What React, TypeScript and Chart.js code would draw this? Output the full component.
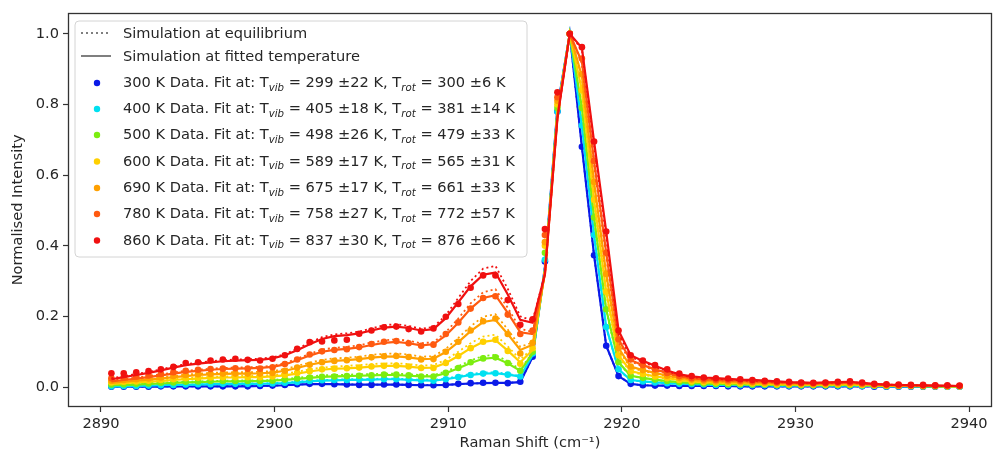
import React, { useEffect, useRef } from "react";
import { Chart, registerables } from "chart.js";

Chart.register(...registerables);

// ---------- data ----------
const ramanShift = [
  2890.60, 2891.31, 2892.03, 2892.74, 2893.45, 2894.17, 2894.88, 2895.59, 2896.31, 2897.02,
  2897.74, 2898.45, 2899.16, 2899.88, 2900.59, 2901.30, 2902.02, 2902.73, 2903.44, 2904.16,
  2904.87, 2905.58, 2906.30, 2907.01, 2907.72, 2908.44, 2909.15, 2909.86, 2910.58, 2911.29,
  2912.01, 2912.72, 2913.43, 2914.15, 2914.86, 2915.57, 2916.29, 2917.00, 2917.70, 2918.40,
  2919.10, 2919.81, 2920.51, 2921.21, 2921.91, 2922.61, 2923.31, 2924.02, 2924.72, 2925.42,
  2926.12, 2926.82, 2927.52, 2928.23, 2928.93, 2929.63, 2930.33, 2931.03, 2931.73, 2932.44,
  2933.14, 2933.84, 2934.54, 2935.24, 2935.94, 2936.65, 2937.35, 2938.05, 2938.75, 2939.45,
];

const xTicks = [2890, 2900, 2910, 2920, 2930, 2940];
const yTicks = [0.0, 0.2, 0.4, 0.6, 0.8, 1.0];

const tempLabels = ["300 K", "400 K", "500 K", "600 K", "690 K", "780 K", "860 K"];
const tVibFit = ["299 ±22", "405 ±18", "498 ±26", "589 ±17", "675 ±17", "758 ±27", "837 ±30"];
const tRotFit = ["300 ±6", "381 ±14", "479 ±33", "565 ±31", "661 ±33", "772 ±57", "876 ±66"];
const seriesColors = ["#0a1ae8", "#00e0f0", "#7ced10", "#ffd000", "#ffa000", "#ff5a10", "#f01010"];
const simLegendLabels = ["Simulation at equilibrium", "Simulation at fitted temperature"];

// 300 K
const data300 = [
  0.001, 0.001, 0.001, 0.001, 0.002, 0.002, 0.002, 0.002, 0.002, 0.002,
  0.002, 0.002, 0.003, 0.004, 0.006, 0.008, 0.009, 0.009, 0.008, 0.007,
  0.006, 0.006, 0.007, 0.007, 0.006, 0.005, 0.005, 0.006, 0.009, 0.011,
  0.012, 0.012, 0.011, 0.015, 0.086, 0.355, 0.780, 1.000, 0.680, 0.373,
  0.117, 0.031, 0.009, 0.005, 0.004, 0.004, 0.003, 0.003, 0.003, 0.003,
  0.002, 0.002, 0.002, 0.002, 0.002, 0.002, 0.002, 0.002, 0.002, 0.002,
  0.002, 0.002, 0.001, 0.001, 0.001, 0.001, 0.001, 0.001, 0.001, 0.001,
];
const fit300 = [
  0.001, 0.001, 0.001, 0.001, 0.001, 0.002, 0.002, 0.002, 0.002, 0.002,
  0.002, 0.002, 0.003, 0.004, 0.005, 0.007, 0.008, 0.008, 0.008, 0.007,
  0.007, 0.007, 0.007, 0.007, 0.006, 0.005, 0.005, 0.006, 0.008, 0.010,
  0.011, 0.012, 0.012, 0.014, 0.085, 0.340, 0.790, 1.000, 0.680, 0.373,
  0.117, 0.031, 0.009, 0.005, 0.004, 0.004, 0.003, 0.003, 0.003, 0.003,
  0.003, 0.002, 0.002, 0.002, 0.002, 0.002, 0.002, 0.002, 0.002, 0.002,
  0.002, 0.002, 0.002, 0.001, 0.001, 0.001, 0.001, 0.001, 0.001, 0.001,
];
const eq300 = [
  0.001, 0.001, 0.001, 0.002, 0.002, 0.002, 0.002, 0.002, 0.002, 0.002,
  0.003, 0.003, 0.003, 0.004, 0.005, 0.007, 0.008, 0.009, 0.008, 0.008,
  0.007, 0.007, 0.007, 0.007, 0.006, 0.006, 0.005, 0.006, 0.008, 0.010,
  0.011, 0.012, 0.012, 0.014, 0.085, 0.340, 0.790, 1.000, 0.679, 0.372,
  0.116, 0.031, 0.009, 0.005, 0.004, 0.004, 0.003, 0.003, 0.003, 0.003,
  0.003, 0.002, 0.002, 0.002, 0.002, 0.002, 0.002, 0.002, 0.002, 0.002,
  0.002, 0.002, 0.002, 0.001, 0.001, 0.001, 0.001, 0.001, 0.001, 0.001,
];

// 400 K
const data400 = [
  0.002, 0.003, 0.003, 0.004, 0.005, 0.006, 0.007, 0.008, 0.008, 0.009,
  0.009, 0.009, 0.009, 0.010, 0.012, 0.014, 0.017, 0.019, 0.020, 0.020,
  0.021, 0.022, 0.022, 0.022, 0.021, 0.019, 0.018, 0.022, 0.028, 0.034,
  0.038, 0.039, 0.035, 0.030, 0.095, 0.360, 0.780, 1.000, 0.740, 0.430,
  0.170, 0.050, 0.020, 0.016, 0.013, 0.011, 0.009, 0.008, 0.007, 0.006,
  0.006, 0.005, 0.005, 0.005, 0.004, 0.004, 0.004, 0.004, 0.004, 0.004,
  0.004, 0.003, 0.003, 0.002, 0.002, 0.002, 0.002, 0.002, 0.001, 0.001,
];
const fit400 = [
  0.002, 0.002, 0.003, 0.004, 0.005, 0.006, 0.006, 0.007, 0.008, 0.008,
  0.009, 0.009, 0.009, 0.010, 0.011, 0.013, 0.016, 0.018, 0.019, 0.020,
  0.020, 0.021, 0.022, 0.022, 0.020, 0.019, 0.018, 0.022, 0.028, 0.034,
  0.038, 0.039, 0.035, 0.030, 0.090, 0.335, 0.785, 1.000, 0.740, 0.430,
  0.170, 0.050, 0.020, 0.016, 0.013, 0.011, 0.009, 0.008, 0.007, 0.006,
  0.006, 0.005, 0.005, 0.005, 0.004, 0.004, 0.004, 0.004, 0.004, 0.004,
  0.004, 0.003, 0.003, 0.002, 0.002, 0.002, 0.002, 0.002, 0.001, 0.001,
];
const eq400 = [
  0.003, 0.003, 0.004, 0.005, 0.006, 0.007, 0.007, 0.008, 0.009, 0.009,
  0.010, 0.010, 0.010, 0.011, 0.013, 0.015, 0.018, 0.020, 0.021, 0.022,
  0.022, 0.023, 0.024, 0.024, 0.022, 0.021, 0.020, 0.024, 0.031, 0.037,
  0.041, 0.042, 0.037, 0.031, 0.092, 0.335, 0.785, 1.000, 0.738, 0.427,
  0.168, 0.049, 0.019, 0.015, 0.012, 0.010, 0.009, 0.008, 0.007, 0.006,
  0.006, 0.005, 0.005, 0.004, 0.004, 0.004, 0.004, 0.004, 0.004, 0.004,
  0.004, 0.003, 0.003, 0.002, 0.002, 0.002, 0.002, 0.001, 0.001, 0.001,
];

// 500 K
const data500 = [
  0.007, 0.008, 0.009, 0.010, 0.012, 0.013, 0.015, 0.016, 0.017, 0.017,
  0.017, 0.017, 0.017, 0.018, 0.021, 0.024, 0.027, 0.029, 0.030, 0.031,
  0.032, 0.033, 0.035, 0.035, 0.033, 0.030, 0.030, 0.040, 0.054, 0.070,
  0.081, 0.084, 0.068, 0.046, 0.100, 0.380, 0.790, 1.000, 0.790, 0.480,
  0.220, 0.070, 0.032, 0.026, 0.021, 0.017, 0.014, 0.012, 0.010, 0.009,
  0.008, 0.008, 0.007, 0.007, 0.006, 0.006, 0.005, 0.005, 0.005, 0.006,
  0.006, 0.005, 0.004, 0.003, 0.003, 0.003, 0.002, 0.002, 0.002, 0.002,
];
const fit500 = [
  0.005, 0.006, 0.007, 0.009, 0.010, 0.012, 0.013, 0.014, 0.015, 0.016,
  0.016, 0.017, 0.017, 0.018, 0.020, 0.023, 0.026, 0.029, 0.030, 0.031,
  0.032, 0.033, 0.034, 0.034, 0.032, 0.030, 0.030, 0.039, 0.053, 0.068,
  0.080, 0.083, 0.067, 0.046, 0.095, 0.330, 0.780, 1.000, 0.790, 0.480,
  0.220, 0.070, 0.032, 0.026, 0.021, 0.017, 0.014, 0.012, 0.010, 0.009,
  0.008, 0.008, 0.007, 0.007, 0.006, 0.006, 0.005, 0.005, 0.005, 0.006,
  0.006, 0.005, 0.004, 0.003, 0.003, 0.003, 0.002, 0.002, 0.002, 0.002,
];
const eq500 = [
  0.007, 0.008, 0.009, 0.011, 0.012, 0.014, 0.015, 0.016, 0.017, 0.018,
  0.018, 0.019, 0.019, 0.020, 0.023, 0.026, 0.030, 0.033, 0.034, 0.035,
  0.036, 0.037, 0.038, 0.038, 0.036, 0.034, 0.034, 0.044, 0.059, 0.075,
  0.088, 0.091, 0.073, 0.050, 0.098, 0.330, 0.780, 1.000, 0.787, 0.475,
  0.215, 0.068, 0.031, 0.025, 0.020, 0.016, 0.013, 0.011, 0.009, 0.008,
  0.008, 0.007, 0.007, 0.006, 0.006, 0.005, 0.005, 0.005, 0.005, 0.005,
  0.005, 0.004, 0.004, 0.003, 0.003, 0.002, 0.002, 0.002, 0.002, 0.002,
];

// 600 K
const data600 = [
  0.013, 0.015, 0.016, 0.018, 0.020, 0.022, 0.025, 0.026, 0.027, 0.028,
  0.028, 0.028, 0.028, 0.030, 0.034, 0.040, 0.045, 0.050, 0.052, 0.053,
  0.055, 0.058, 0.060, 0.061, 0.058, 0.054, 0.054, 0.068, 0.088, 0.110,
  0.128, 0.134, 0.102, 0.066, 0.110, 0.400, 0.800, 1.000, 0.840, 0.530,
  0.270, 0.090, 0.045, 0.037, 0.030, 0.025, 0.020, 0.016, 0.014, 0.013,
  0.012, 0.011, 0.010, 0.009, 0.008, 0.008, 0.007, 0.007, 0.007, 0.008,
  0.008, 0.006, 0.005, 0.004, 0.004, 0.003, 0.003, 0.003, 0.002, 0.002,
];
const fit600 = [
  0.009, 0.011, 0.013, 0.015, 0.017, 0.020, 0.022, 0.024, 0.026, 0.027,
  0.027, 0.028, 0.028, 0.030, 0.033, 0.038, 0.044, 0.049, 0.052, 0.053,
  0.055, 0.058, 0.060, 0.060, 0.058, 0.054, 0.055, 0.068, 0.088, 0.110,
  0.128, 0.133, 0.103, 0.070, 0.105, 0.330, 0.775, 1.000, 0.840, 0.530,
  0.270, 0.090, 0.045, 0.037, 0.030, 0.025, 0.020, 0.016, 0.014, 0.013,
  0.012, 0.011, 0.010, 0.009, 0.008, 0.008, 0.007, 0.007, 0.007, 0.008,
  0.008, 0.006, 0.005, 0.004, 0.004, 0.003, 0.003, 0.003, 0.002, 0.002,
];
const eq600 = [
  0.012, 0.014, 0.016, 0.018, 0.020, 0.023, 0.025, 0.027, 0.029, 0.030,
  0.031, 0.032, 0.032, 0.034, 0.038, 0.043, 0.050, 0.055, 0.058, 0.060,
  0.062, 0.065, 0.067, 0.067, 0.065, 0.061, 0.062, 0.077, 0.100, 0.124,
  0.143, 0.148, 0.115, 0.078, 0.110, 0.330, 0.775, 1.000, 0.835, 0.522,
  0.262, 0.085, 0.043, 0.035, 0.028, 0.023, 0.019, 0.015, 0.013, 0.012,
  0.011, 0.010, 0.009, 0.008, 0.008, 0.007, 0.007, 0.006, 0.006, 0.007,
  0.007, 0.006, 0.005, 0.004, 0.003, 0.003, 0.003, 0.002, 0.002, 0.002,
];

// 690 K
const data690 = [
  0.018, 0.020, 0.022, 0.024, 0.027, 0.031, 0.034, 0.036, 0.037, 0.038,
  0.038, 0.038, 0.038, 0.040, 0.046, 0.055, 0.063, 0.070, 0.074, 0.076,
  0.079, 0.084, 0.087, 0.088, 0.085, 0.078, 0.079, 0.100, 0.128, 0.160,
  0.186, 0.194, 0.150, 0.095, 0.125, 0.410, 0.810, 1.000, 0.885, 0.580,
  0.320, 0.110, 0.058, 0.048, 0.040, 0.032, 0.026, 0.021, 0.018, 0.016,
  0.015, 0.014, 0.013, 0.012, 0.011, 0.010, 0.009, 0.008, 0.009, 0.010,
  0.010, 0.008, 0.006, 0.005, 0.004, 0.004, 0.004, 0.003, 0.003, 0.003,
];
const fit690 = [
  0.012, 0.015, 0.018, 0.021, 0.024, 0.028, 0.031, 0.034, 0.036, 0.037,
  0.038, 0.038, 0.039, 0.041, 0.046, 0.054, 0.063, 0.070, 0.074, 0.076,
  0.079, 0.083, 0.086, 0.087, 0.084, 0.079, 0.080, 0.099, 0.127, 0.158,
  0.184, 0.190, 0.150, 0.105, 0.120, 0.325, 0.770, 1.000, 0.880, 0.580,
  0.320, 0.110, 0.058, 0.048, 0.040, 0.032, 0.026, 0.021, 0.018, 0.016,
  0.015, 0.014, 0.013, 0.012, 0.011, 0.010, 0.009, 0.008, 0.009, 0.010,
  0.010, 0.008, 0.006, 0.005, 0.004, 0.004, 0.004, 0.003, 0.003, 0.003,
];
const eq690 = [
  0.015, 0.018, 0.021, 0.024, 0.027, 0.031, 0.035, 0.038, 0.040, 0.041,
  0.042, 0.042, 0.043, 0.045, 0.051, 0.060, 0.069, 0.077, 0.081, 0.083,
  0.086, 0.091, 0.094, 0.095, 0.092, 0.086, 0.087, 0.108, 0.139, 0.172,
  0.199, 0.206, 0.163, 0.114, 0.126, 0.325, 0.770, 1.000, 0.875, 0.570,
  0.310, 0.104, 0.055, 0.045, 0.038, 0.030, 0.025, 0.020, 0.017, 0.015,
  0.014, 0.013, 0.012, 0.011, 0.010, 0.009, 0.008, 0.008, 0.008, 0.009,
  0.009, 0.007, 0.006, 0.005, 0.004, 0.004, 0.003, 0.003, 0.003, 0.002,
];

// 780 K
const data780 = [
  0.025, 0.028, 0.030, 0.033, 0.037, 0.042, 0.046, 0.049, 0.051, 0.052,
  0.053, 0.052, 0.052, 0.056, 0.065, 0.078, 0.092, 0.101, 0.105, 0.107,
  0.113, 0.122, 0.128, 0.130, 0.124, 0.117, 0.120, 0.150, 0.183, 0.222,
  0.252, 0.257, 0.205, 0.150, 0.160, 0.430, 0.820, 1.000, 0.930, 0.640,
  0.380, 0.135, 0.078, 0.062, 0.050, 0.040, 0.031, 0.025, 0.022, 0.020,
  0.019, 0.018, 0.016, 0.015, 0.013, 0.012, 0.011, 0.010, 0.011, 0.012,
  0.012, 0.010, 0.007, 0.006, 0.005, 0.005, 0.004, 0.004, 0.003, 0.003,
];
const fit780 = [
  0.016, 0.020, 0.024, 0.028, 0.033, 0.038, 0.043, 0.046, 0.049, 0.051,
  0.052, 0.053, 0.054, 0.057, 0.064, 0.076, 0.089, 0.100, 0.105, 0.108,
  0.112, 0.119, 0.125, 0.128, 0.124, 0.118, 0.121, 0.146, 0.182, 0.222,
  0.252, 0.260, 0.210, 0.155, 0.150, 0.320, 0.765, 1.000, 0.920, 0.640,
  0.380, 0.135, 0.076, 0.062, 0.050, 0.040, 0.031, 0.025, 0.022, 0.020,
  0.019, 0.018, 0.016, 0.015, 0.013, 0.012, 0.011, 0.010, 0.011, 0.012,
  0.012, 0.010, 0.007, 0.006, 0.005, 0.005, 0.004, 0.004, 0.003, 0.003,
];
const eq780 = [
  0.019, 0.023, 0.027, 0.031, 0.036, 0.041, 0.046, 0.049, 0.052, 0.054,
  0.055, 0.056, 0.057, 0.060, 0.068, 0.080, 0.094, 0.106, 0.111, 0.114,
  0.118, 0.126, 0.132, 0.135, 0.131, 0.124, 0.127, 0.155, 0.194, 0.237,
  0.268, 0.277, 0.224, 0.165, 0.156, 0.320, 0.765, 1.000, 0.915, 0.630,
  0.368, 0.127, 0.072, 0.059, 0.047, 0.038, 0.029, 0.024, 0.021, 0.019,
  0.018, 0.017, 0.015, 0.014, 0.012, 0.011, 0.010, 0.009, 0.010, 0.011,
  0.011, 0.009, 0.007, 0.006, 0.005, 0.004, 0.004, 0.003, 0.003, 0.003,
];

// 860 K
const data860 = [
  0.039, 0.039, 0.042, 0.045, 0.050, 0.057, 0.068, 0.070, 0.075, 0.078,
  0.080, 0.077, 0.075, 0.080, 0.090, 0.108, 0.127, 0.129, 0.132, 0.134,
  0.151, 0.160, 0.169, 0.171, 0.164, 0.157, 0.166, 0.199, 0.235, 0.281,
  0.316, 0.316, 0.246, 0.176, 0.192, 0.447, 0.834, 1.000, 0.962, 0.695,
  0.440, 0.160, 0.090, 0.075, 0.062, 0.050, 0.038, 0.031, 0.027, 0.025,
  0.024, 0.022, 0.020, 0.018, 0.016, 0.015, 0.013, 0.012, 0.013, 0.015,
  0.016, 0.013, 0.009, 0.008, 0.007, 0.006, 0.006, 0.005, 0.005, 0.004,
];
const fit860 = [
  0.022, 0.028, 0.034, 0.040, 0.047, 0.055, 0.062, 0.066, 0.070, 0.073,
  0.075, 0.076, 0.077, 0.081, 0.090, 0.104, 0.121, 0.136, 0.144, 0.147,
  0.152, 0.160, 0.168, 0.171, 0.167, 0.160, 0.164, 0.195, 0.240, 0.285,
  0.318, 0.324, 0.262, 0.190, 0.182, 0.320, 0.760, 1.000, 0.960, 0.695,
  0.440, 0.160, 0.090, 0.074, 0.060, 0.047, 0.036, 0.030, 0.027, 0.025,
  0.023, 0.021, 0.020, 0.018, 0.016, 0.014, 0.013, 0.012, 0.013, 0.014,
  0.015, 0.012, 0.009, 0.007, 0.006, 0.005, 0.005, 0.004, 0.004, 0.003,
];
const eq860 = [
  0.025, 0.031, 0.037, 0.043, 0.050, 0.058, 0.065, 0.069, 0.073, 0.076,
  0.078, 0.079, 0.080, 0.084, 0.093, 0.108, 0.126, 0.141, 0.149, 0.152,
  0.157, 0.166, 0.175, 0.178, 0.173, 0.165, 0.170, 0.203, 0.252, 0.300,
  0.335, 0.343, 0.278, 0.200, 0.188, 0.320, 0.760, 1.000, 0.955, 0.685,
  0.425, 0.150, 0.085, 0.070, 0.057, 0.045, 0.034, 0.028, 0.025, 0.023,
  0.021, 0.019, 0.018, 0.016, 0.015, 0.013, 0.012, 0.011, 0.012, 0.013,
  0.014, 0.011, 0.008, 0.007, 0.006, 0.005, 0.004, 0.004, 0.003, 0.003,
];

const measured = [data300, data400, data500, data600, data690, data780, data860];
const fitted = [fit300, fit400, fit500, fit600, fit690, fit780, fit860];
const equilibrium = [eq300, eq400, eq500, eq600, eq690, eq780, eq860];

// ---------- styling ----------
const FONT_FAMILY = '"DejaVu Sans", "Liberation Sans", sans-serif';
const FONT_SIZE = 14.6;
const TEXT_COLOR = "#262626";
const AXIS_COLOR = "#333333";

const toPoints = (ys: number[]) => ys.map((y, i) => ({ x: ramanShift[i], y }));

const spinePlugin = {
  id: "spines",
  afterDatasetsDraw(chart: any) {
    const { ctx, chartArea } = chart;
    ctx.save();
    ctx.strokeStyle = AXIS_COLOR;
    ctx.lineWidth = 1.3;
    ctx.strokeRect(
      Math.round(chartArea.left) + 0.5,
      Math.round(chartArea.top) + 0.5,
      Math.round(chartArea.right - chartArea.left) - 1,
      Math.round(chartArea.bottom - chartArea.top) - 1
    );
    ctx.restore();
  },
};

const legendPlugin = {
  id: "richLegend",
  afterDraw(chart: any) {
    const ctx = chart.ctx as CanvasRenderingContext2D;
    const boxX = 75, boxY = 21, boxW = 452, boxH = 236, r = 4;
    ctx.save();
    ctx.beginPath();
    ctx.moveTo(boxX + r, boxY);
    ctx.arcTo(boxX + boxW, boxY, boxX + boxW, boxY + boxH, r);
    ctx.arcTo(boxX + boxW, boxY + boxH, boxX, boxY + boxH, r);
    ctx.arcTo(boxX, boxY + boxH, boxX, boxY, r);
    ctx.arcTo(boxX, boxY, boxX + boxW, boxY, r);
    ctx.closePath();
    ctx.fillStyle = "rgba(255,255,255,0.85)";
    ctx.fill();
    ctx.strokeStyle = "#d4d4d4";
    ctx.lineWidth = 1;
    ctx.stroke();

    const rows = [33, 56, 82, 108, 134, 160.5, 187, 213, 239.5];
    const textX = 123;
    const mainFont = `${FONT_SIZE}px ${FONT_FAMILY}`;
    const subFont = `italic ${FONT_SIZE * 0.7}px ${FONT_FAMILY}`;
    ctx.textBaseline = "alphabetic";
    ctx.textAlign = "left";
    ctx.fillStyle = TEXT_COLOR;

    // simulation handles
    ctx.strokeStyle = "#7f7f7f";
    ctx.lineWidth = 1.8;
    ctx.setLineDash([2, 3]);
    ctx.beginPath();
    ctx.moveTo(81, rows[0]);
    ctx.lineTo(111, rows[0]);
    ctx.stroke();
    ctx.setLineDash([]);
    ctx.lineWidth = 2;
    ctx.beginPath();
    ctx.moveTo(81, rows[1]);
    ctx.lineTo(111, rows[1]);
    ctx.stroke();
    ctx.font = mainFont;
    ctx.fillText(simLegendLabels[0], textX, rows[0] + 5);
    ctx.fillText(simLegendLabels[1], textX, rows[1] + 5);

    for (let i = 0; i < tempLabels.length; i++) {
      const y = rows[i + 2];
      ctx.fillStyle = seriesColors[i];
      ctx.beginPath();
      ctx.arc(97, y + 1, 3.2, 0, Math.PI * 2);
      ctx.fill();
      ctx.fillStyle = TEXT_COLOR;
      const parts: [string, boolean][] = [
        [`${tempLabels[i]} Data. Fit at: T`, false],
        ["vib", true],
        [` = ${tVibFit[i]} K, T`, false],
        ["rot", true],
        [` = ${tRotFit[i]} K`, false],
      ];
      let x = textX;
      for (const [t, sub] of parts) {
        ctx.font = sub ? subFont : mainFont;
        ctx.fillText(t, x, y + 5 + (sub ? 3.5 : 0));
        x += ctx.measureText(t).width;
      }
    }
    ctx.restore();
  },
};

export default function App() {
  const canvasRef = useRef<HTMLCanvasElement | null>(null);

  useEffect(() => {
    if (!canvasRef.current) return;
    const datasets: any[] = [];
    for (let s = 0; s < tempLabels.length; s++) {
      const color = seriesColors[s];
      const base = (tempLabels.length - 1 - s) * 3;
      datasets.push({
        label: `${tempLabels[s]} simulation at equilibrium`,
        data: toPoints(equilibrium[s]),
        showLine: true,
        borderColor: color,
        borderWidth: 1.8,
        borderDash: [2, 3],
        pointRadius: 0,
        fill: false,
        order: base + 2,
      });
      datasets.push({
        label: `${tempLabels[s]} simulation at fitted temperature`,
        data: toPoints(fitted[s]),
        showLine: true,
        borderColor: color,
        borderWidth: 2.2,
        pointRadius: 0,
        fill: false,
        order: base + 1,
      });
      datasets.push({
        label: `${tempLabels[s]} Data`,
        data: toPoints(measured[s]),
        showLine: false,
        pointRadius: 3.3,
        pointBorderWidth: 0,
        backgroundColor: color,
        borderColor: color,
        order: base,
      });
    }

    const font = { family: FONT_FAMILY, size: FONT_SIZE };
    const chart = new Chart(canvasRef.current, {
      type: "scatter",
      data: { datasets },
      options: {
        animation: false,
        responsive: false,
        devicePixelRatio: 1,
        layout: { padding: { top: 12, right: 3, left: 0, bottom: 0 } },
        plugins: { legend: { display: false }, tooltip: { enabled: false } },
        scales: {
          x: {
            type: "linear",
            min: 2888.1,
            max: 2941.32,
            afterBuildTicks: (scale: any) => {
              scale.ticks = xTicks.map((v) => ({ value: v }));
            },
            afterFit: (scale: any) => {
              scale.height = 47;
            },
            ticks: {
              font,
              color: TEXT_COLOR,
              padding: 3,
              autoSkip: false,
              maxRotation: 0,
              callback: (v: any) => String(v),
            },
            grid: {
              drawOnChartArea: false,
              drawTicks: true,
              tickLength: 5,
              tickColor: AXIS_COLOR,
              tickWidth: 1.2,
            },
            border: { display: false },
            title: {
              display: true,
              text: "Raman Shift (cm⁻¹)",
              font,
              color: TEXT_COLOR,
              padding: { top: 0, bottom: 2 },
            },
          },
          y: {
            type: "linear",
            min: -0.0565,
            max: 1.0593,
            afterBuildTicks: (scale: any) => {
              scale.ticks = yTicks.map((v) => ({ value: v }));
            },
            afterFit: (scale: any) => {
              scale.width = 68;
            },
            ticks: {
              font,
              color: TEXT_COLOR,
              padding: 4,
              autoSkip: false,
              callback: (v: any) => Number(v).toFixed(1),
            },
            grid: {
              drawOnChartArea: false,
              drawTicks: true,
              tickLength: 5,
              tickColor: AXIS_COLOR,
              tickWidth: 1.2,
            },
            border: { display: false },
            title: {
              display: true,
              text: "Normalised Intensity",
              font,
              color: TEXT_COLOR,
              padding: { top: 9, bottom: 0 },
            },
          },
        },
      },
      plugins: [spinePlugin, legendPlugin],
    } as any);
    return () => chart.destroy();
  }, []);

  return (
    <div style={{ position: "absolute", left: 0, top: 0, width: 996, height: 454, background: "#fff" }}>
      <canvas ref={canvasRef} width={996} height={454} style={{ width: 996, height: 454, display: "block" }} />
    </div>
  );
}
